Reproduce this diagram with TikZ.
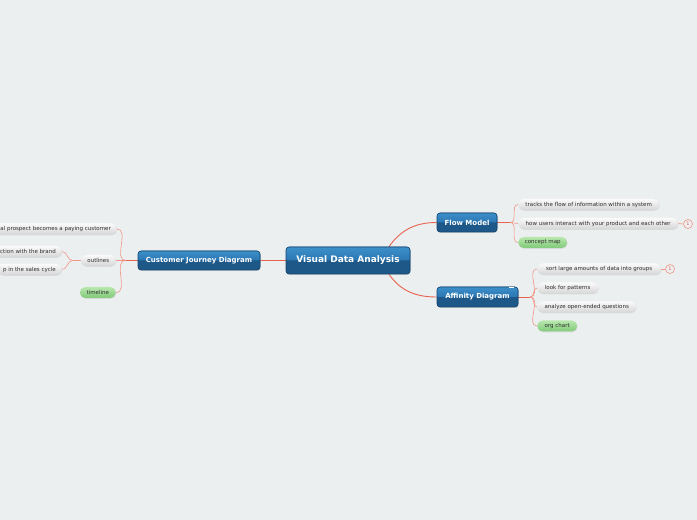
\documentclass[tikz,border=0pt]{standalone}
\usepackage{fontspec}
\setmainfont{DejaVu Sans}
\usetikzlibrary{shadows}
\definecolor{bgc}{RGB}{236,239,240}
\definecolor{bluetop}{RGB}{64,148,206}
\definecolor{bluemid}{RGB}{42,118,178}
\definecolor{bluebot}{RGB}{29,88,136}
\definecolor{blueborder}{RGB}{22,70,110}
\definecolor{linered}{RGB}{232,98,78}
\definecolor{sublinered}{RGB}{240,150,135}
\definecolor{leaftop}{RGB}{250,250,250}
\definecolor{leafbot}{RGB}{214,214,214}
\definecolor{greentop}{RGB}{184,232,174}
\definecolor{greenbot}{RGB}{128,202,120}
\definecolor{leaftext}{RGB}{45,45,45}
\pgfdeclarelayer{bglayer}
\pgfdeclarelayer{lines}
\pgfsetlayers{bglayer,lines,main}
\tikzset{
  bluebox/.style={draw=blueborder, line width=0.6pt, rounded corners=3pt,
    text=white, inner sep=0pt, fill=bluebot,
    drop shadow={opacity=0.25, shadow xshift=0.6pt, shadow yshift=-1pt},
    path picture={
      \fill[bluebot] ([shift={(-2pt,-2pt)}]path picture bounding box.south west)
        rectangle ([shift={(2pt,2pt)}]path picture bounding box.north east);
      \shade[top color=bluetop, bottom color=bluemid]
        ([shift={(-2pt,2pt)}]path picture bounding box.north west)
        rectangle ([xshift=2pt]path picture bounding box.east);
    }},
  centralbox/.style={bluebox, minimum width=124pt, minimum height=27pt,
    font=\bfseries\fontsize{9}{10}\selectfont},
  topicbox/.style={bluebox, minimum height=19pt,
    font=\bfseries\fontsize{7}{8}\selectfont},
  leafbox/.style={rounded corners=5.5pt, minimum height=11pt, inner xsep=6pt, inner ysep=0pt,
    top color=leaftop, bottom color=leafbot, text=leaftext,
    font=\fontsize{5.5}{6}\selectfont,
    drop shadow={opacity=0.18, shadow xshift=0.5pt, shadow yshift=-0.8pt}},
  greenbox/.style={leafbox, top color=greentop, bottom color=greenbot},
  mainline/.style={draw=linered, line width=0.9pt},
  subline/.style={draw=sublinered, line width=0.6pt},
  marker/.style={circle, draw=sublinered, line width=0.6pt, fill=bgc, minimum size=9pt,
    inner sep=0pt, text=linered, font=\fontsize{5}{5}\selectfont}
}
\begin{document}
\begin{tikzpicture}
\useasboundingbox (0,0) rectangle (697pt,520pt);
\begin{pgfonlayer}{bglayer}
\fill[bgc] (0,0) rectangle (697pt,520pt);
\end{pgfonlayer}

% main nodes
\node[centralbox] (central) at (348pt,259.5pt) {Visual Data Analysis};
\node[topicbox, minimum width=122pt] (cjd) at (199pt,259.5pt) {Customer Journey Diagram};
\node[topicbox, minimum width=60pt] (fm) at (467pt,297.5pt) {Flow Model};
\node[topicbox, minimum width=81pt, minimum height=20pt] (ad) at (477.5pt,223pt) {Affinity Diagram};
\draw[white, line width=0.8pt] ([xshift=-9pt,yshift=-1.2pt]ad.north east) -- ([xshift=-4pt,yshift=-1.2pt]ad.north east);

% Flow Model leaves
\node[leafbox, anchor=west, minimum width=141pt] (fm1) at (518pt,315.5pt) {tracks the flow of information within a system};
\node[leafbox, anchor=west, minimum width=160pt] (fm2) at (518pt,296.5pt) {how users interact with your product and each other};
\node[greenbox, anchor=west, minimum width=49pt] (fm3) at (518pt,277.5pt) {concept map};
\node[marker] (m1) at (688pt,296pt) {1};

% Affinity leaves
\node[leafbox, anchor=west, minimum width=124pt] (ad1) at (537pt,251pt) {sort large amounts of data into groups};
\node[leafbox, anchor=west, minimum width=61pt] (ad2) at (537pt,232pt) {look for patterns};
\node[leafbox, anchor=west, minimum width=99pt] (ad3) at (537pt,213pt) {analyze open-ended questions};
\node[greenbox, anchor=west, minimum width=40pt] (ad4) at (537pt,194pt) {org chart};
\node[marker] (m2) at (670pt,251pt) {1};

% Customer Journey leaves
\node[leafbox, anchor=east] (cj1) at (117pt,291pt) {al prospect becomes a paying customer};
\node[leafbox, anchor=east, minimum width=35pt] (cj2) at (116pt,259.5pt) {outlines};
\node[greenbox, anchor=east, minimum width=36pt] (cj3) at (116pt,227.5pt) {timeline};
\node[leafbox, anchor=east] (oc1) at (62pt,268.5pt) {ction with the brand};
\node[leafbox, anchor=east] (oc2) at (62pt,250.5pt) {p in the sales cycle};

% connectors
\begin{pgfonlayer}{lines}
\draw[mainline] (central.west) -- (cjd.east);
\draw[mainline] ([xshift=41pt]central.north) to[out=55,in=180] (fm.west);
\draw[mainline] ([xshift=41pt]central.south) to[out=-55,in=180] (ad.west);

\draw[mainline] (fm.east) -- ++(13pt,0) coordinate (fmb);
\foreach \c in {fm1,fm2,fm3} \draw[subline] (fmb) to[out=0,in=180] (\c.west);
\draw[subline] (fm2.east) -- (m1.west);

\draw[mainline] (ad.east) -- ++(12pt,0) coordinate (adb);
\foreach \c in {ad1,ad2,ad3,ad4} \draw[subline] (adb) to[out=0,in=180] (\c.west);
\draw[subline] (ad1.east) -- (m2.west);

\draw[mainline] (cjd.west) -- ++(-12pt,0) coordinate (cjb);
\foreach \c in {cj1,cj2,cj3} \draw[subline] (cjb) to[out=180,in=0] (\c.east);

\draw[subline] (cj2.west) -- ++(-8pt,0) coordinate (ocb);
\foreach \c in {oc1,oc2} \draw[subline] (ocb) to[out=180,in=0] (\c.east);
\end{pgfonlayer}
\end{tikzpicture}
\end{document}
